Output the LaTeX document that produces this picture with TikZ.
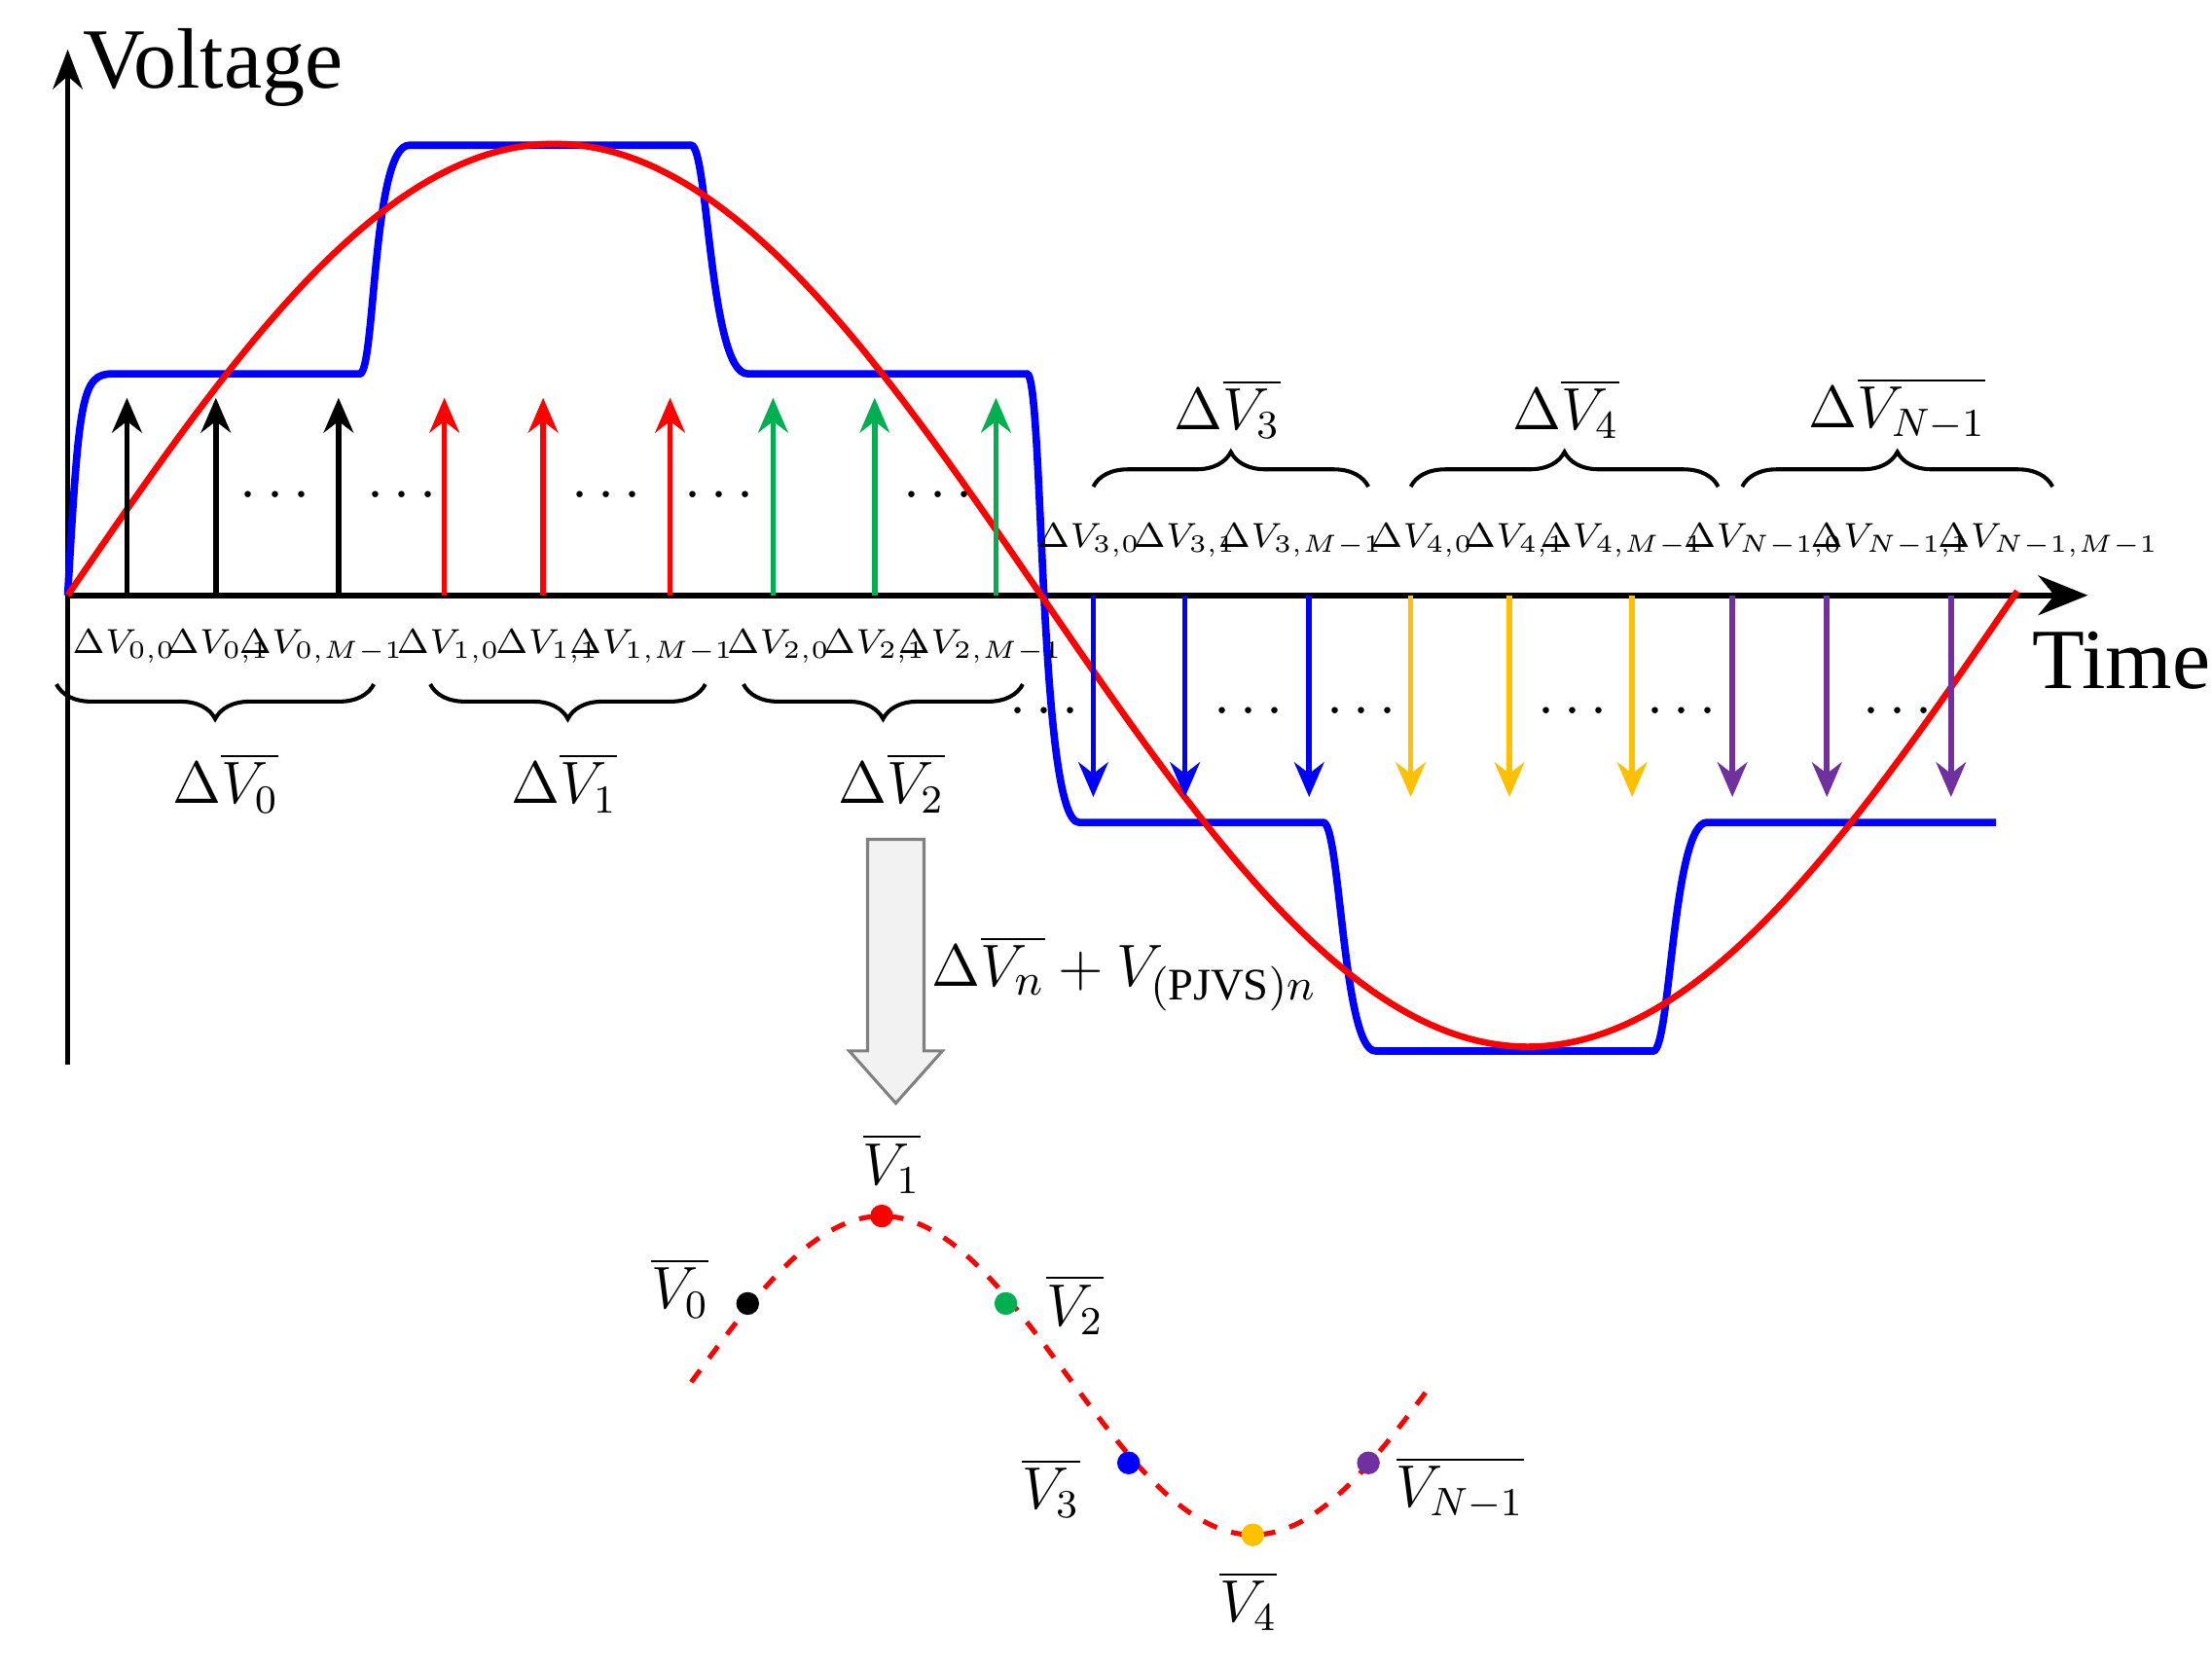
\documentclass[tikz,border=0pt]{standalone}
\usepackage{fontspec}
\setmainfont{Liberation Serif}
\usetikzlibrary{decorations.pathreplacing,arrows.meta}
\definecolor{dgreen}{RGB}{0,176,80}
\definecolor{myorange}{RGB}{255,192,0}
\definecolor{mypurple}{RGB}{112,48,160}
\begin{document}
\begin{tikzpicture}[x=0.01cm,y=-0.01cm,
  up/.style={-{Stealth[length=7pt,width=6pt]},line width=1.1pt},
  lab/.style={font=\fontsize{6.6}{8}\selectfont,inner sep=0pt},
  big/.style={font=\large,inner sep=0pt},
  br/.style={decorate,decoration={brace,amplitude=7pt},line width=0.8pt},
  dotlab/.style={font=\large,inner sep=0pt}]
\useasboundingbox (0,0) rectangle (1568,1182);
% axes
\draw[-{Stealth[length=8pt]},line width=1pt] (48,755) -- (48,35);
\draw[-{Stealth[length=10pt,width=8pt]},line width=1.2pt] (48,422) -- (1480,422);
\node[font=\LARGE,anchor=west,inner sep=0pt] (vl) at (58,48) {Voltage};
\node[font=\LARGE,anchor=west,inner sep=0pt] (tl) at (1440,468) {Time};
% blue staircase
\draw[blue,line width=1.5pt] (48,422) .. controls (56,280) and (58,265) .. (80,265) -- (255,265)
  .. controls (266,265) and (264,103) .. (290,103) -- (490,103)
  .. controls (502,103) and (503,265) .. (530,265) -- (728,265)
  .. controls (740,265) and (736,583) .. (765,583) -- (938,583)
  .. controls (950,583) and (952,745) .. (975,745) -- (1172,745)
  .. controls (1184,745) and (1186,583) .. (1210,583) -- (1415,583);
% red sine
\draw[red,line width=1.3pt] plot[domain=48:1430,samples=200] ({\x},{422-320*sin(0.26087*(\x-48))});
% up arrows
\foreach \x in {90,153,240} \draw[up,black] (\x,422) -- (\x,282);
\foreach \x in {315,385,475} \draw[up,red] (\x,422) -- (\x,282);
\foreach \x in {548,620,706} \draw[up,dgreen] (\x,422) -- (\x,282);
\foreach \x in {775,840,928} \draw[up,blue] (\x,422) -- (\x,565);
\foreach \x in {1000,1070,1157} \draw[up,myorange] (\x,422) -- (\x,565);
\foreach \x in {1228,1295,1383} \draw[up,mypurple] (\x,422) -- (\x,565);
% dots
\foreach \x in {195,285,430,510,665} \node[font=\large] at (\x,352) {$\cdots$};
\foreach \x in {740,885,965,1115,1192,1345} \node[font=\large] at (\x,505) {$\cdots$};
% labels below
\node[lab] (l00) at (88,458) {$\Delta V_{0,0}$};
\node[lab] (l01) at (155,458) {$\Delta V_{0,1}$};
\node[lab] (l0m) at (228,458) {$\Delta V_{0,M-1}$};
\node[lab] (l10) at (318,458) {$\Delta V_{1,0}$};
\node[lab] (l11) at (388,458) {$\Delta V_{1,1}$};
\node[lab] (l1m) at (462,458) {$\Delta V_{1,M-1}$};
\node[lab] (l20) at (552,458) {$\Delta V_{2,0}$};
\node[lab] (l21) at (620,458) {$\Delta V_{2,1}$};
\node[lab] (l2m) at (695,458) {$\Delta V_{2,M-1}$};
\draw[br] (265,485) -- (40,485);
\draw[br] (500,485) -- (305,485);
\draw[br] (725,485) -- (527,485);
\node[big] (b0) at (160,555) {$\Delta\overline{V_0}$};
\node[big] (b1) at (400,555) {$\Delta\overline{V_1}$};
\node[big] (b2) at (632,555) {$\Delta\overline{V_2}$};
% labels above
\node[lab] (l30) at (772,383) {$\Delta V_{3,0}$};
\node[lab] (l31) at (840,383) {$\Delta V_{3,1}$};
\node[lab] (l3m) at (922,383) {$\Delta V_{3,M-1}$};
\node[lab] (l40) at (1008,383) {$\Delta V_{4,0}$};
\node[lab] (l41) at (1074,383) {$\Delta V_{4,1}$};
\node[lab] (l4m) at (1150,383) {$\Delta V_{4,M-1}$};
\node[lab] (ln0) at (1250,383) {$\Delta V_{N-1,0}$};
\node[lab] (ln1) at (1340,383) {$\Delta V_{N-1,1}$};
\node[lab] (lnm) at (1452,383) {$\Delta V_{N-1,M-1}$};
\draw[br] (775,345) -- (970,345);
\draw[br] (1000,345) -- (1218,345);
\draw[br] (1235,345) -- (1455,345);
\node[big] (b3) at (870,290) {$\Delta\overline{V_3}$};
\node[big] (b4) at (1110,290) {$\Delta\overline{V_4}$};
\node[big] (bn) at (1345,290) {$\Delta\overline{V_{N-1}}$};
% gray arrow
\draw[gray,fill=gray!10,line width=0.6pt] (615,595) -- (655,595) -- (655,745) -- (668,745) -- (635,782) -- (602,745) -- (615,745) -- cycle;
\node[font=\fontsize{13}{15}\selectfont,anchor=west,inner sep=0pt] (eq) at (660,690) {$\Delta\overline{V_n}+V_{(\mathrm{PJVS})n}$};
% bottom curve
\draw[red,dashed,line width=1pt] plot[domain=490:1015,samples=120] ({\x},{975-113*cos(0.68441*(\x-625))});
\fill[black] (530,924) circle (2.3pt);
\fill[red] (625,862) circle (2.3pt);
\fill[dgreen] (713,924) circle (2.3pt);
\fill[blue] (800,1037) circle (2.3pt);
\fill[myorange] (888,1088) circle (2.3pt);
\fill[mypurple] (970,1037) circle (2.3pt);
\node[dotlab] (v0) at (482,913) {$\overline{V_0}$};
\node[dotlab] (v1) at (632,825) {$\overline{V_1}$};
\node[dotlab] (v2) at (762,925) {$\overline{V_2}$};
\node[dotlab] (v3) at (745,1055) {$\overline{V_3}$};
\node[dotlab] (v4) at (885,1135) {$\overline{V_4}$};
\node[dotlab] (vn) at (1035,1055) {$\overline{V_{N-1}}$};
\end{tikzpicture}
\end{document}
